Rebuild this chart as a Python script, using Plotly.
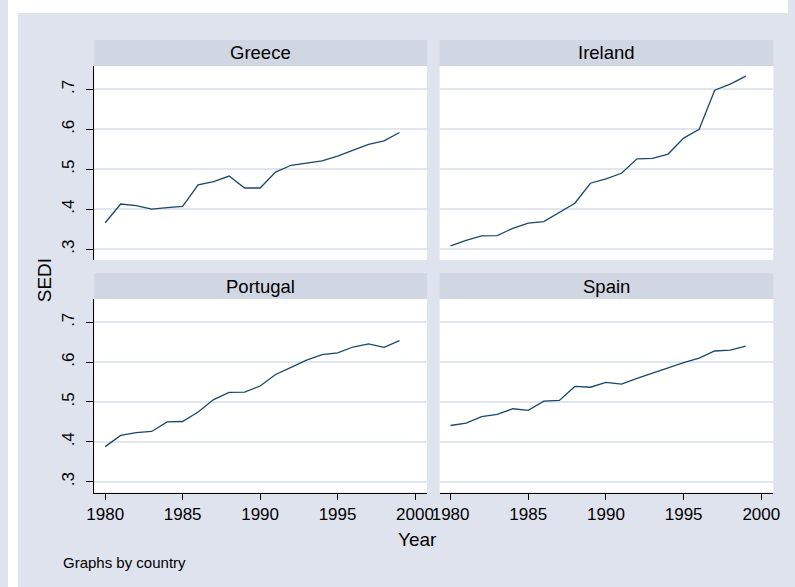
import plotly.graph_objects as go

W, H = 795, 587

years = list(range(1980, 2000))

greece = [0.366, 0.413, 0.409, 0.400, 0.404, 0.407, 0.461, 0.469, 0.483, 0.453,
          0.453, 0.493, 0.510, 0.515, 0.521, 0.533, 0.548, 0.562, 0.571, 0.592]
ireland = [0.308, 0.322, 0.333, 0.334, 0.352, 0.365, 0.369, 0.393, 0.415, 0.465,
           0.476, 0.490, 0.526, 0.527, 0.538, 0.578, 0.600, 0.698, 0.713, 0.733]
portugal = [0.388, 0.416, 0.423, 0.426, 0.450, 0.451, 0.475, 0.506, 0.524, 0.525,
            0.540, 0.569, 0.587, 0.605, 0.619, 0.623, 0.638, 0.646, 0.637, 0.654]
spain = [0.441, 0.447, 0.463, 0.469, 0.483, 0.479, 0.502, 0.504, 0.539, 0.537,
         0.549, 0.545, 0.559, 0.572, 0.585, 0.599, 0.610, 0.628, 0.630, 0.640]

countries = ["Greece", "Ireland", "Portugal", "Spain"]
series = [greece, ireland, portugal, spain]

x_tickvals = [1980, 1985, 1990, 1995, 2000]
x_ticktext = ["1980", "1985", "1990", "1995", "2000"]
y_tickvals = [0.3, 0.4, 0.5, 0.6, 0.7]
y_ticktext = [".3", ".4", ".5", ".6", ".7"]

BG = "#dfe3ee"
STRIP = "#d0d6e2"
GRID = "#e1e5ee"
LINE = "#1a476f"
FONT = "Liberation Sans, Arial, sans-serif"

def px_x(p):
    return p / W

def px_y(p):
    return 1 - p / H

col_x = [(88, 427), (440, 780)]
row_y = [(66, 260), (299, 492.5)]
strip_y = [(40, 66), (273.3, 299)]

fig = go.Figure()
layout = dict(
    width=W, height=H,
    margin=dict(l=0, r=0, t=0, b=0),
    paper_bgcolor=BG,
    plot_bgcolor="white",
    showlegend=False,
    font=dict(family=FONT, color="black"),
)

shapes = [
    dict(type="rect", xref="paper", yref="paper", x0=0, x1=px_x(10), y0=0, y1=1,
         fillcolor="white", line=dict(width=0)),
    dict(type="rect", xref="paper", yref="paper", x0=0, x1=1, y0=px_y(13), y1=1,
         fillcolor="white", line=dict(width=0)),
]
annotations = []

for i, (name, vals) in enumerate(zip(countries, series)):
    r, c = divmod(i, 2)
    k = i + 1
    xa = "xaxis" if k == 1 else f"xaxis{k}"
    ya = "yaxis" if k == 1 else f"yaxis{k}"
    xref = "x" if k == 1 else f"x{k}"
    yref = "y" if k == 1 else f"y{k}"
    fig.add_trace(go.Scatter(x=years, y=vals, mode="lines",
                             line=dict(color=LINE, width=1.3),
                             xaxis=xref, yaxis=yref, hoverinfo="skip"))
    x0, x1 = col_x[c]
    yt, yb = row_y[r]
    bottom = r == 1
    left = c == 0
    layout[xa] = dict(
        domain=[px_x(x0), px_x(x1)], range=[1979.3, 2000.77], anchor=yref,
        showgrid=False, zeroline=False,
        showline=bottom, linecolor="black", linewidth=1,
        ticks="outside" if bottom else "", ticklen=6, tickcolor="black",
        tickvals=x_tickvals, ticktext=x_ticktext, showticklabels=bottom,
        tickfont=dict(size=17, family=FONT, color="black"),
    )
    layout[ya] = dict(
        domain=[px_y(yb), px_y(yt)], range=[0.2728, 0.7585], anchor=xref,
        showgrid=True, gridcolor=GRID, gridwidth=1.5, zeroline=False,
        showline=left, linecolor="black", linewidth=1,
        ticks="outside" if left else "", ticklen=7, tickcolor="black",
        tickvals=y_tickvals, ticktext=y_ticktext, showticklabels=left,
        tickangle=-90, ticklabelstandoff=6,
        tickfont=dict(size=17, family=FONT, color="black"),
    )
    sy0, sy1 = strip_y[r]
    shapes.append(dict(type="rect", xref="paper", yref="paper",
                       x0=px_x(x0), x1=px_x(x1), y0=px_y(sy1), y1=px_y(sy0),
                       fillcolor=STRIP, line=dict(width=0)))
    annotations.append(dict(text=name, xref="paper", yref="paper",
                            x=px_x((x0 + x1) / 2), y=px_y((sy0 + sy1) / 2),
                            xanchor="center", yanchor="middle", showarrow=False,
                            font=dict(size=18.5, family=FONT, color="black")))

annotations.append(dict(text="Year", xref="paper", yref="paper",
                        x=px_x(417), y=px_y(539), xanchor="center", yanchor="middle",
                        showarrow=False, font=dict(size=19, family=FONT, color="black")))
annotations.append(dict(text="SEDI", xref="paper", yref="paper",
                        x=px_x(38), y=px_y(280), xanchor="center", yanchor="middle",
                        textangle=-90, showarrow=False,
                        font=dict(size=19, family=FONT, color="black")))
annotations.append(dict(text="Graphs by country", xref="paper", yref="paper",
                        x=px_x(54), y=px_y(562), xanchor="left", yanchor="middle",
                        showarrow=False, font=dict(size=15, family=FONT, color="black")))

layout["shapes"] = shapes
layout["annotations"] = annotations
fig.update_layout(**layout)

fig.write_html("out.html", config={"displayModeBar": False},
               post_script="document.body.style.margin='0';")
